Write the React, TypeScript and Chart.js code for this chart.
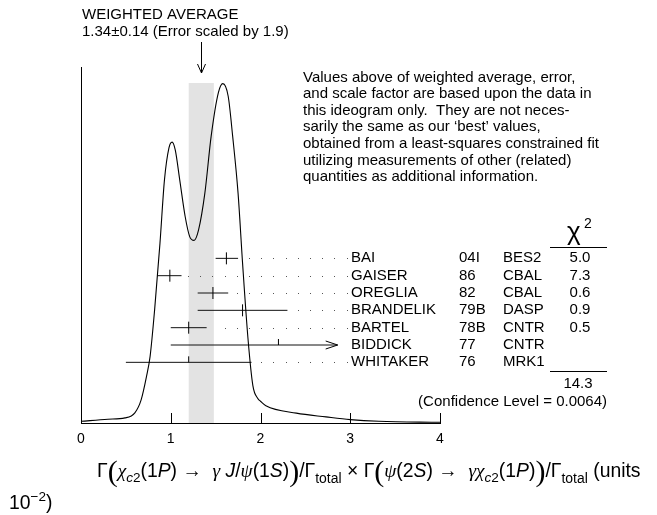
import { useEffect, useRef } from "react";
import { Chart, registerables } from "chart.js";

Chart.register(...registerables);

// ---------- data ----------
const CURVE_X = [0.0, 0.3, 0.49, 0.6, 0.67, 0.73, 0.77, 0.82, 0.88, 0.93, 0.98, 1.015, 1.05, 1.1, 1.16, 1.21, 1.26, 1.31, 1.38, 1.45, 1.53, 1.58, 1.64, 1.69, 1.75, 1.8, 1.86, 1.915, 1.97, 2.0, 2.06, 2.4, 2.73, 3.0, 3.32, 4.0];
const CURVE_Y = [0.005, 0.011, 0.015, 0.03, 0.068, 0.137, 0.196, 0.332, 0.529, 0.715, 0.809, 0.826, 0.803, 0.715, 0.608, 0.549, 0.537, 0.568, 0.676, 0.843, 0.971, 0.998, 0.961, 0.843, 0.676, 0.471, 0.25, 0.11, 0.072, 0.064, 0.051, 0.029, 0.018, 0.01, 0.005, 0.002];

const NAMES = ["BAI", "GAISER", "OREGLIA", "BRANDELIK", "BARTEL", "BIDDICK", "WHITAKER"];
const YEARS = ["04I", "86", "82", "79B", "78B", "77", "76"];
const TECHS = ["BES2", "CBAL", "CBAL", "DASP", "CNTR", "CNTR", "MRK1"];
const VALUES = [1.62, 0.99, 1.47, 1.8, 1.2, 2.2, 1.2];
const ERR_LO = [0.12, 0.14, 0.17, 0.5, 0.2, 1.2, 0.7];
const ERR_HI = [0.13, 0.13, 0.17, 0.5, 0.2, 0.66, 0.7];
const ARROW = [false, false, false, false, false, true, false];
const USED = [true, true, true, true, true, false, false];
const CHI2 = ["5.0", "7.3", "0.6", "0.9", "0.5", "", ""];
const CHI2_TOTAL = "14.3";
const CONF_TEXT = "(Confidence Level = 0.0064)";

const WAVG = 1.34;
const WAVG_ERR = 0.14;
const ERR_SCALE = "1.9";
const BAND_TOP = 1.0;
const X_TICKS = [0, 1, 2, 3, 4];

const NOTE_LINES = [
  "Values above of weighted average, error,",
  "and scale factor are based upon the data in",
  "this ideogram only.  They are not neces-",
  "sarily the same as our \u2018best\u2019 values,",
  "obtained from a least-squares constrained fit",
  "utilizing measurements of other (related)",
  "quantities as additional information.",
];

type Run = { t: string; f: "r" | "i" | "g" | "p"; s?: number; dy?: number };
const TITLE_LINE1: Run[] = [
  { t: "\u0393", f: "r" }, { t: "(", f: "p" }, { t: "\u03c7", f: "g" },
  { t: "c", f: "i", s: 0.7, dy: 0.25 }, { t: "2", f: "r", s: 0.7, dy: 0.25 },
  { t: "(1", f: "r" }, { t: "P", f: "i" }, { t: ") \u2192  ", f: "r" },
  { t: "\u03b3", f: "g" }, { t: " J", f: "i" }, { t: "/", f: "r" }, { t: "\u03c8", f: "g" },
  { t: "(1", f: "r" }, { t: "S", f: "i" }, { t: ")", f: "r" }, { t: ")", f: "p" },
  { t: "/\u0393", f: "r" }, { t: "total", f: "r", s: 0.72, dy: 0.3 },
  { t: " \u00d7 \u0393", f: "r" }, { t: "(", f: "p" }, { t: "\u03c8", f: "g" },
  { t: "(2", f: "r" }, { t: "S", f: "i" }, { t: ") \u2192  ", f: "r" },
  { t: "\u03b3", f: "g" }, { t: "\u03c7", f: "g" },
  { t: "c", f: "i", s: 0.7, dy: 0.25 }, { t: "2", f: "r", s: 0.7, dy: 0.25 },
  { t: "(1", f: "r" }, { t: "P", f: "i" }, { t: ")", f: "r" }, { t: ")", f: "p" },
  { t: "/\u0393", f: "r" }, { t: "total", f: "r", s: 0.72, dy: 0.3 }, { t: " (units", f: "r" },
];
const TITLE_LINE2: Run[] = [
  { t: "10", f: "r" }, { t: "\u22122", f: "r", s: 0.7, dy: -0.4 }, { t: ")", f: "r" },
];

// ---------- layout constants ----------
const W = 657;
const H = 515;
const SANS = "'Liberation Sans', Arial, Helvetica, 'DejaVu Sans', sans-serif";
const SERIF = "'Liberation Serif', 'DejaVu Serif', serif";
const FS = 15;
const Y_MAX = 1.047;
const ROW_MIN = -11.04;
const ROW_MAX = 9.5;

function runFont(r: Run, size: number) {
  const s = size * (r.s ?? 1);
  if (r.f === "i") return `italic ${s}px ${SANS}`;
  if (r.f === "g") return `italic ${s}px ${SERIF}`;
  if (r.f === "p") return `${s * 1.55}px ${SERIF}`;
  return `${s}px ${SANS}`;
}

function measureRuns(ctx: CanvasRenderingContext2D, runs: Run[], size: number) {
  let w = 0;
  for (const r of runs) {
    ctx.font = runFont(r, size);
    w += ctx.measureText(r.t).width;
  }
  return w;
}

function drawRuns(ctx: CanvasRenderingContext2D, runs: Run[], x: number, baseline: number, size: number) {
  ctx.textAlign = "left";
  ctx.textBaseline = "alphabetic";
  let cx = x;
  for (const r of runs) {
    ctx.font = runFont(r, size);
    let dy = (r.dy ?? 0) * size;
    if (r.f === "p") dy += 0.22 * size;
    ctx.fillText(r.t, cx, baseline + dy);
    cx += ctx.measureText(r.t).width;
  }
}

const ideogramPlugin = {
  id: "ideogram",
  beforeDatasetsDraw(chart: any) {
    const { ctx, scales } = chart;
    const x = scales.x;
    const y = scales.y;
    ctx.save();
    ctx.fillStyle = "#e3e3e3";
    const x0 = x.getPixelForValue(WAVG - WAVG_ERR);
    const x1 = x.getPixelForValue(WAVG + WAVG_ERR);
    const yt = y.getPixelForValue(BAND_TOP);
    const yb = y.getPixelForValue(0);
    ctx.fillRect(x0, yt, x1 - x0, yb - yt);
    ctx.restore();
  },
  afterDatasetsDraw(chart: any) {
    const { ctx, scales, chartArea } = chart;
    const x = scales.x;
    const yr = scales.yr;
    ctx.save();
    ctx.strokeStyle = "#000";
    ctx.lineWidth = 1;

    // upward ticks on the x axis
    for (const t of X_TICKS) {
      const px = Math.round(x.getPixelForValue(t)) + 0.5;
      ctx.beginPath();
      ctx.moveTo(px, chartArea.bottom);
      ctx.lineTo(px, chartArea.bottom - 10);
      ctx.stroke();
    }

    // error bar centre ticks, arrows and leader dots
    for (let i = 0; i < NAMES.length; i++) {
      const py = yr.getPixelForValue(i);
      const pc = x.getPixelForValue(VALUES[i]);
      ctx.beginPath();
      if (USED[i]) {
        ctx.moveTo(pc, py - 6);
        ctx.lineTo(pc, py + 6);
      } else {
        ctx.moveTo(pc, py - 6);
        ctx.lineTo(pc, py);
      }
      ctx.stroke();
      const pHi = x.getPixelForValue(VALUES[i] + ERR_HI[i]);
      if (ARROW[i]) {
        ctx.beginPath();
        ctx.moveTo(pHi - 12, py - 4);
        ctx.lineTo(pHi, py);
        ctx.lineTo(pHi - 12, py + 4);
        ctx.stroke();
      } else {
        ctx.fillStyle = "#555";
        for (let dx = 346.5; dx > pHi + 6; dx -= 12.2) {
          ctx.fillRect(Math.round(dx), Math.round(py), 1, 1);
        }
      }
    }
    ctx.restore();
  },
  afterDraw(chart: any) {
    const { ctx, scales } = chart;
    const x = scales.x;
    const yr = scales.yr;
    ctx.save();
    ctx.fillStyle = "#000";
    ctx.strokeStyle = "#000";
    ctx.lineWidth = 1;

    // weighted average header and arrow
    ctx.font = `${FS}px ${SANS}`;
    ctx.textAlign = "left";
    ctx.textBaseline = "middle";
    ctx.fillText("WEIGHTED AVERAGE", 82, 15);
    ctx.fillText(`${WAVG.toFixed(2)}\u00b1${WAVG_ERR.toFixed(2)} (Error scaled by ${ERR_SCALE})`, 82, 32);
    const ax = Math.round(x.getPixelForValue(WAVG)) + 0.5;
    ctx.beginPath();
    ctx.moveTo(ax, 42);
    ctx.lineTo(ax, 73);
    ctx.moveTo(ax - 4, 64);
    ctx.lineTo(ax, 73);
    ctx.lineTo(ax + 4, 64);
    ctx.stroke();

    // note block
    NOTE_LINES.forEach((l, k) => ctx.fillText(l, 303, 77.5 + k * 16.6));

    // row labels
    for (let i = 0; i < NAMES.length; i++) {
      const py = yr.getPixelForValue(i);
      ctx.textAlign = "left";
      ctx.fillText(NAMES[i], 351, py);
      ctx.fillText(YEARS[i], 459, py);
      ctx.fillText(TECHS[i], 503, py);
      ctx.textAlign = "center";
      if (CHI2[i]) ctx.fillText(CHI2[i], 580, py);
    }

    // chi2 header and sum
    ctx.textAlign = "left";
    ctx.textBaseline = "alphabetic";
    ctx.font = `26px ${SANS}`;
    ctx.fillText("\u03c7", 567, 240);
    ctx.font = `14px ${SANS}`;
    ctx.fillText("2", 584, 228);
    ctx.beginPath();
    ctx.moveTo(550, 247.5);
    ctx.lineTo(607, 247.5);
    ctx.moveTo(550, 371.5);
    ctx.lineTo(607, 371.5);
    ctx.stroke();
    ctx.font = `${FS}px ${SANS}`;
    ctx.textBaseline = "middle";
    ctx.textAlign = "center";
    ctx.fillText(CHI2_TOTAL, 578, 384);
    ctx.textAlign = "right";
    ctx.fillText(CONF_TEXT, 607, 401.5);

    // axis title
    const base = 16;
    const w1 = measureRuns(ctx, TITLE_LINE1, base);
    const size = (base * (641 - 97)) / w1;
    drawRuns(ctx, TITLE_LINE1, 97, 477, size);
    drawRuns(ctx, TITLE_LINE2, 9, 509, size);
    ctx.restore();
  },
};

export default function App() {
  const ref = useRef<HTMLCanvasElement | null>(null);
  useEffect(() => {
    if (!ref.current) return;
    const curve = CURVE_X.map((v, i) => ({ x: v, y: CURVE_Y[i] }));
    const bars = NAMES.map((n, i) => ({
      type: "line" as const,
      label: n,
      data: [
        { x: VALUES[i] - ERR_LO[i], y: i },
        { x: VALUES[i] + ERR_HI[i], y: i },
      ],
      yAxisID: "yr",
      borderColor: "#111",
      borderWidth: 1,
      pointRadius: 0,
      tension: 0,
    }));
    const chart = new Chart(ref.current, {
      type: "line",
      data: {
        datasets: [
          {
            label: "ideogram",
            data: curve,
            yAxisID: "y",
            borderColor: "#000",
            borderWidth: 1.1,
            pointRadius: 0,
            cubicInterpolationMode: "monotone",
            fill: false,
          },
          ...bars,
        ],
      },
      options: {
        responsive: false,
        animation: false,
        devicePixelRatio: 1,
        parsing: false,
        layout: { padding: { left: 81, right: 217, top: 67, bottom: 62 } },
        plugins: { legend: { display: false }, tooltip: { enabled: false } },
        scales: {
          x: {
            type: "linear",
            min: 0,
            max: 4,
            afterBuildTicks: (s: any) => {
              s.ticks = X_TICKS.map((v) => ({ value: v }));
            },
            afterFit: (s: any) => {
              s.height = 30;
            },
            grid: { display: false },
            border: { display: true, color: "#000", width: 1 },
            ticks: {
              color: "#000",
              padding: 0,
              maxRotation: 0,
              font: { family: SANS, size: 14 },
              callback: (v: any) => String(v),
            },
          },
          y: {
            type: "linear",
            position: "left",
            min: 0,
            max: Y_MAX,
            afterFit: (s: any) => {
              s.width = 0;
            },
            grid: { display: false },
            border: { display: true, color: "#000", width: 1 },
            ticks: { display: false },
          },
          yr: {
            type: "linear",
            display: false,
            min: ROW_MIN,
            max: ROW_MAX,
            reverse: true,
          },
        },
      } as any,
      plugins: [ideogramPlugin],
    });
    return () => chart.destroy();
  }, []);
  return (
    <div style={{ position: "absolute", left: 0, top: 0, width: W, height: H, background: "#fff" }}>
      <canvas ref={ref} width={W} height={H} style={{ width: W, height: H, display: "block" }} />
    </div>
  );
}
